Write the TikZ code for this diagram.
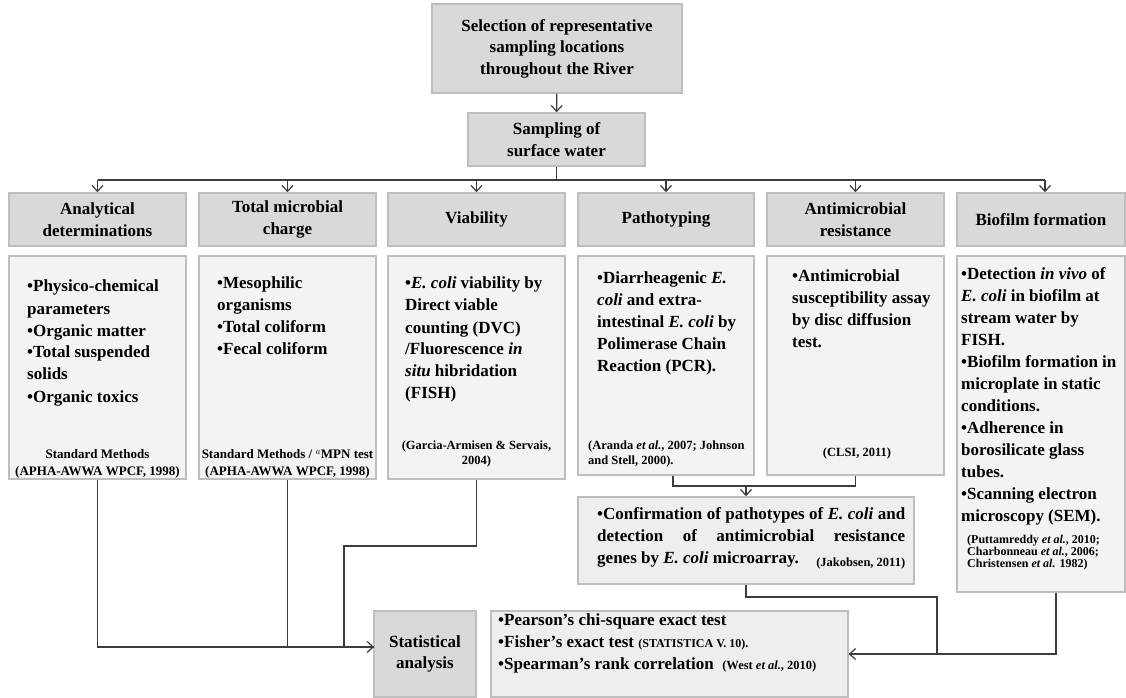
\documentclass[tikz,border=0pt]{standalone}
\usepackage{fontspec}
\setmainfont{Liberation Serif}
\usetikzlibrary{arrows.meta,positioning,calc}

\definecolor{hdrfill}{RGB}{217,217,217}
\definecolor{boxline}{RGB}{190,190,190}
\definecolor{cntfill}{RGB}{243,243,243}
\definecolor{tstfill}{RGB}{238,238,238}
\definecolor{linegray}{RGB}{60,60,60}
\newcommand{\ecoli}{\textit{E. coli}}
\newcommand{\etal}{\textit{et al.}}
\newcommand{\citesz}{\fontsize{12.5}{15}\selectfont}

\begin{document}
\begin{tikzpicture}[x=1pt, y=-1pt,
    hdr/.style={draw=boxline, line width=1.5pt, fill=hdrfill, minimum width=177pt, minimum height=53pt, align=center, inner sep=0pt, font=\fontsize{17}{21.5}\selectfont\bfseries},
    panel/.style={draw=boxline, line width=1.5pt, fill=cntfill, inner sep=0pt, minimum width=177pt},
    txt/.style={anchor=north west, align=left, inner sep=0pt, font=\fontsize{17}{22}\selectfont\bfseries},
    cite/.style={align=center, inner sep=0pt, font=\fontsize{13}{17}\selectfont\bfseries},
    ln/.style={draw=linegray, line width=1.2pt},
    arr/.style={ln, -{Straight Barb[length=6pt,width=11pt]}},
  ]
  \fill[white] (0,0) rectangle (1126,698);
  \useasboundingbox (0,0) rectangle (1126,698);

  % Top of the flow
  \node[hdr, minimum width=250pt, minimum height=89pt] (sel) at (557,48.5) {Selection of representative\\sampling locations\\throughout the River};
  \node[hdr] (samp) at (556.5,139.5) {Sampling of\\surface water};

  % Column headers
  \node[hdr] (hanl) at (97.5,219.5) {Analytical\\determinations};
  \node[hdr] (htot) at (287.5,219.5) {Total microbial\\charge};
  \node[hdr] (hvia) at (476.5,219.5) {Viability};
  \node[hdr, minimum width=176pt] (hpat) at (666,219.5) {Pathotyping};
  \node[hdr] (hamr) at (855.5,219.5) {Antimicrobial\\resistance};
  \node[hdr, minimum width=168pt] (hbio) at (1041,219.5) {Biofilm formation};

  % Column panels
  \node[panel, minimum height=223pt] (anl) at (97.5,367.5) {};
  \node[panel, minimum height=223pt] (tot) at (287.5,367.5) {};
  \node[panel, minimum height=223pt] (via) at (476.5,367.5) {};
  \node[panel, minimum width=176pt, minimum height=219pt] (pat) at (666,365.5) {};
  \node[panel, minimum height=219pt] (amr) at (855.5,365.5) {};
  \node[panel, minimum width=168pt, minimum height=336pt] (bio) at (1041,424) {};

  \node[txt] (anltxt) at (27,280) {•Physico-chemical\\parameters\\•Organic matter\\•Total suspended\\solids\\•Organic toxics};
  \node[cite] (anlref) at (97.5,464) {Standard Methods\\(APHA-AWWA WPCF, 1998)};

  \node[txt] (tottxt) at (217,277) {•Mesophilic\\organisms\\•Total coliform\\•Fecal coliform};
  \node[cite] (totref) at (287.5,464) {Standard Methods / $^{a}$MPN test\\(APHA-AWWA WPCF, 1998)};

  \node[txt] (viatxt) at (405,277) {•\ecoli{} viability by\\Direct viable\\counting (DVC)\\/Fluorescence \textit{in}\\\textit{situ} hibridation\\(FISH)};
  \node[cite, font=\citesz\bfseries] (viaref) at (476.5,454) {(Garcia-Armisen \& Servais,\\2004)};

  \node[txt] (pattxt) at (597,272) {•Diarrheagenic \textit{E.}\\\textit{coli} and extra-\\intestinal \ecoli{} by\\Polimerase Chain\\Reaction (PCR).};
  \node[cite, font=\citesz\bfseries, align=left, anchor=west] (patref) at (588,454) {(Aranda \etal, 2007; Johnson\\and Stell, 2000).};

  \node[txt] (amrtxt) at (792,270) {•Antimicrobial\\susceptibility assay\\by disc diffusion\\test.};
  \node[cite, font=\citesz\bfseries] (amrref) at (857,453) {(CLSI, 2011)};

  \node[txt] (biotxt) at (961,267) {•Detection \textit{in vivo} of\\\ecoli{} in biofilm at\\stream water by\\FISH.\\•Biofilm formation in\\microplate in static\\conditions.\\•Adherence in\\borosilicate glass\\tubes.\\•Scanning electron\\microscopy (SEM).};
  \node[cite, font=\fontsize{12}{12}\selectfont\bfseries, align=left, anchor=north west] (bioref) at (967,535) {(Puttamreddy \etal, 2010;\\Charbonneau \etal, 2006;\\Christensen \etal{} 1982)};

  % Confirmation by microarray
  \node[panel, fill=tstfill, minimum width=336pt, minimum height=87pt] (micro) at (746,540.5) {};
  \node[txt] (microtxt) at (597,507) {\makebox[308pt][s]{•Confirmation of pathotypes of \ecoli{} and}\\\makebox[308pt][s]{detection of antimicrobial resistance}\\\makebox[308pt][s]{genes by \ecoli{} microarray.\hfill\raisebox{-3pt}{\citesz(Jakobsen, 2011)}}};

  % Statistics
  \node[hdr, minimum width=102pt, minimum height=86pt] (stat) at (425,654) {Statistical\\analysis};
  \node[panel, fill=tstfill, minimum width=357pt, minimum height=86pt] (tests) at (669.5,654) {};
  \node[txt] (teststxt) at (498,613) {•Pearson's chi-square exact test\\•Fisher's exact test {\fontsize{12}{14}\selectfont(STATISTICA V. 10).}\\•Spearman's rank correlation\ \ {\citesz(West \etal, 2010)}};

  % Connectors
  \coordinate (bus) at (0,180);
  \coordinate (statin) at (374,647);
  \coordinate (vbend) at (344,546);
  \coordinate (brk) at (746,486);
  \coordinate (mbend) at (937,597);

  \draw[arr] (sel) -- (samp);
  \draw[ln] (samp.south) -- (samp.south |- bus);
  \draw[ln] (hanl.north |- bus) -- ([xshift=4pt]hbio.north |- bus);
  \foreach \h in {hanl,htot,hvia,hpat,hamr} {
    \draw[arr] (\h.north |- bus) -- (\h.north);
  }
  \draw[arr] ([xshift=4pt]hbio.north |- bus) -- ([xshift=4pt]hbio.north);

  \draw[arr] (anl.south) |- (statin);
  \draw[ln] (tot.south) |- (statin);
  \draw[ln] (via.south) |- (vbend) |- (statin);

  \draw[ln] ([xshift=7pt]pat.south) |- (brk) -| (amr.south);
  \draw[arr] (brk) -- (micro.north);

  \draw[ln] (micro.south) |- (mbend) |- (tests.east);
  \draw[arr] ([xshift=15pt]bio.south) |- (tests.east);
\end{tikzpicture}
\end{document}
